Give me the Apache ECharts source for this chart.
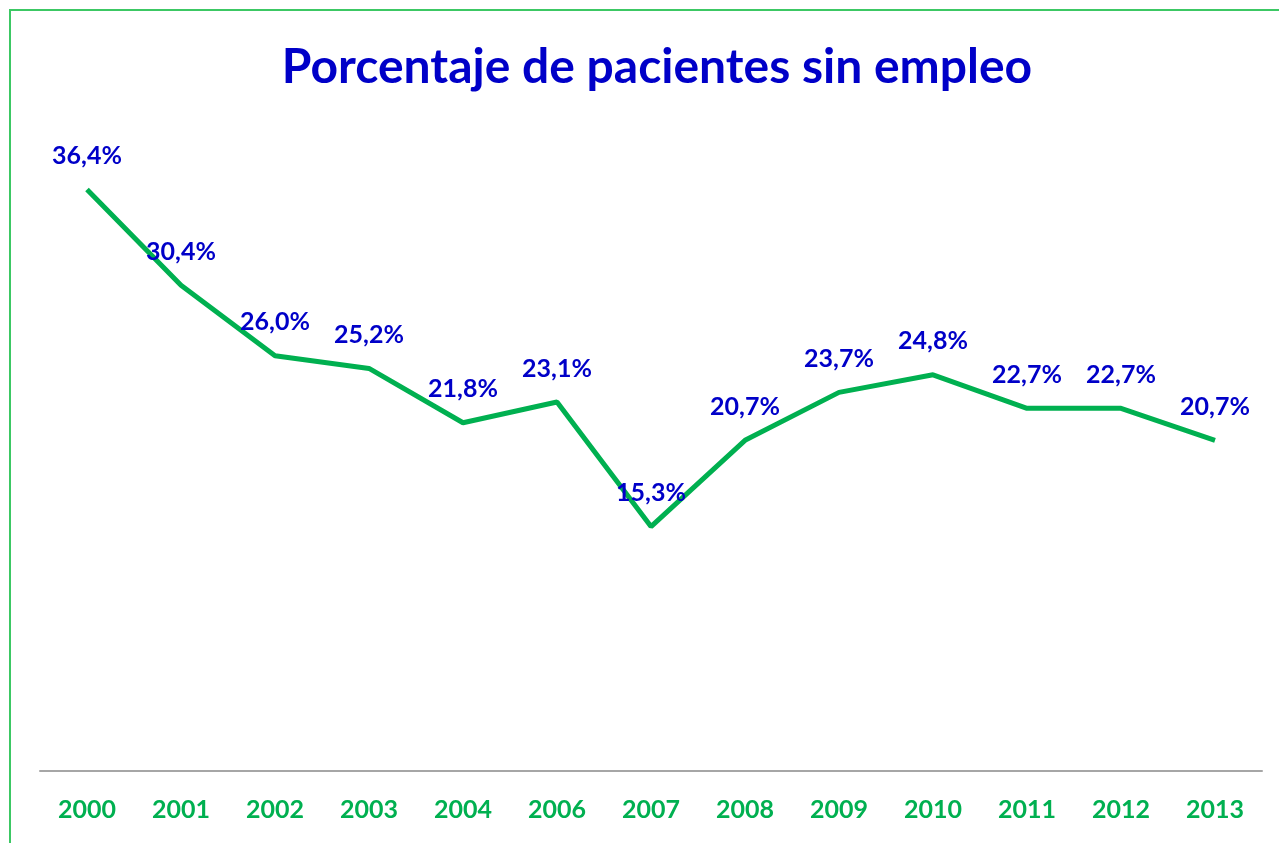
<!DOCTYPE html>
<html>
<head>
<meta charset="utf-8">
<script src="https://cdn.jsdelivr.net/npm/echarts@6/dist/echarts.min.js"></script>
<style>
  html, body { margin: 0; padding: 0; background: #fff; overflow: hidden; }
  #frame {
    position: absolute; left: 9px; top: 9px;
    width: 1400px; height: 1000px;
    border: 2px solid #3cc864;
    box-sizing: border-box;
  }
  #chart { position: absolute; left: 0; top: 0; width: 1279px; height: 843px; }
</style>
</head>
<body>
<div id="frame"></div>
<div id="chart"></div>
<script>
// datos
const years = ['2000', '2001', '2002', '2003', '2004', '2006', '2007', '2008', '2009', '2010', '2011', '2012', '2013'];
const percent = [36.4, 30.4, 26.0, 25.2, 21.8, 23.1, 15.3, 20.7, 23.7, 24.8, 22.7, 22.7, 20.7];

const chart = echarts.init(document.getElementById('chart'));

const option = {
  animation: false,
  title: {
    text: 'Porcentaje de pacientes sin empleo',
    left: 652,
    top: 39,
    textAlign: 'center',
    textStyle: {
      fontFamily: 'Lato',
      fontWeight: 'bold',
      fontSize: 48,
      color: '#0000c8'
    }
  },
  grid: { left: 40, right: 17, top: 132, bottom: 72 },
  xAxis: {
    type: 'category',
    data: years,
    axisLine: { lineStyle: { color: '#a6a6a6', width: 2 } },
    axisTick: { show: false },
    axisLabel: {
      margin: 26,
      fontFamily: 'Lato',
      fontWeight: 'bold',
      fontSize: 25,
      color: '#00b050'
    }
  },
  yAxis: {
    type: 'value',
    min: 0,
    max: 40,
    show: false,
    splitLine: { show: false }
  },
  series: [{
    type: 'line',
    data: percent,
    symbol: 'circle',
    symbolSize: 0,
    lineStyle: { color: '#00b050', width: 5 },
    itemStyle: { color: '#00b050' },
    label: {
      show: true,
      position: 'top',
      distance: 21,
      fontFamily: 'Lato',
      fontWeight: 'bold',
      fontSize: 25,
      color: '#0000c8',
      formatter: (p) => p.value.toFixed(1).replace('.', ',') + '%'
    }
  }]
};

chart.setOption(option);
</script>
</body>
</html>
